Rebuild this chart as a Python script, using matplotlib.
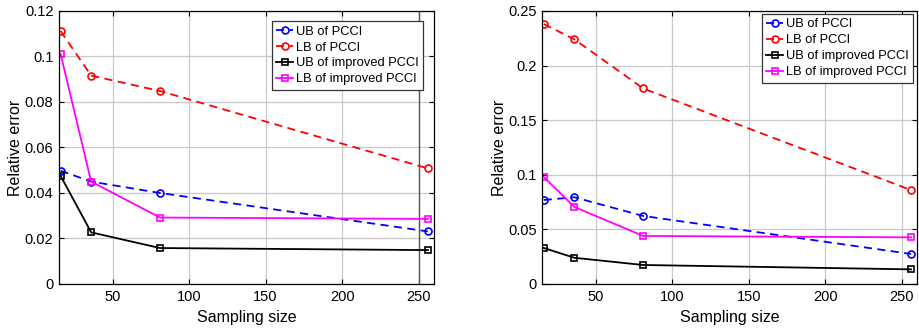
import numpy as np
import matplotlib
matplotlib.use("Agg")
import matplotlib.pyplot as plt

plt.rcParams['font.family'] = ['Liberation Sans', 'DejaVu Sans']

sizes = [16, 36, 81, 256]
labels = ["UB of PCCI", "LB of PCCI", "UB of improved PCCI", "LB of improved PCCI"]

# left panel
ub_pcci_a = [0.0498, 0.0450, 0.0400, 0.0231]
lb_pcci_a = [0.1112, 0.0916, 0.0848, 0.0508]
ub_impr_a = [0.0476, 0.0227, 0.0158, 0.0149]
lb_impr_a = [0.1012, 0.0450, 0.0292, 0.0286]

# right panel
ub_pcci_b = [0.0769, 0.0794, 0.0623, 0.0275]
lb_pcci_b = [0.2380, 0.2240, 0.1790, 0.0860]
ub_impr_b = [0.0330, 0.0240, 0.0174, 0.0134]
lb_impr_b = [0.0980, 0.0705, 0.0440, 0.0427]

yticks_a = [0, 0.02, 0.04, 0.06, 0.08, 0.1, 0.12]
ytick_labels_a = ["0", "0.02", "0.04", "0.06", "0.08", "0.1", "0.12"]
yticks_b = [0, 0.05, 0.1, 0.15, 0.2, 0.25]
ytick_labels_b = ["0", "0.05", "0.1", "0.15", "0.2", "0.25"]
xticks = [50, 100, 150, 200, 250]

styles = [
    dict(color="#0000ff", ls="--", marker="o"),
    dict(color="#ff0000", ls="--", marker="o"),
    dict(color="#000000", ls="-", marker="s"),
    dict(color="#ff00ff", ls="-", marker="s"),
]


def drawPanel(ax, series, yticks, ytick_labels, ymax, legend_anchor, dark_grid=False):
    for ys, lab, st in zip(series, labels, styles):
        line, = ax.plot(sizes, ys, color=st["color"], linestyle=st["ls"], marker=st["marker"],
                        markersize=5 if st["marker"] == "o" else 4.5, markerfacecolor="none",
                        markeredgewidth=1.2, linewidth=1.3, label=lab)
        if st["ls"] == "--":
            line.set_dashes((4.5, 3))
    ax.set_xlim(15, 260)
    ax.set_ylim(0, ymax)
    ax.set_xticks(xticks)
    ax.set_yticks(yticks)
    ax.set_yticklabels(ytick_labels)
    ax.grid(True, color="#c8c8c8", linewidth=0.9)
    ax.set_axisbelow(True)
    if dark_grid:
        # the 250 grid line is drawn dark in the original
        ax.axvline(250, color="#555555", linewidth=1.0, zorder=1.5)
    ax.tick_params(direction="in", top=True, right=True, labelsize=10.5, length=3.5, pad=4)
    for sp in ax.spines.values():
        sp.set_linewidth(0.9)
    ax.set_xlabel("Sampling size", fontsize=11.5, labelpad=5)
    ax.set_ylabel("Relative error", fontsize=11.5, labelpad=1)
    leg = ax.legend(loc="upper right", bbox_to_anchor=legend_anchor, fontsize=9.3,
                    handlelength=1.3, handletextpad=0.2, borderpad=0.35,
                    labelspacing=0.3, borderaxespad=0, fancybox=False,
                    framealpha=1, edgecolor="#333333")
    leg.get_frame().set_linewidth(0.9)


fig = plt.figure(figsize=(9.19, 3.31), dpi=100)
ax1 = fig.add_axes([0.0642, 0.142, 0.408, 0.825])
ax2 = fig.add_axes([0.590, 0.142, 0.408, 0.825])

drawPanel(ax1, [ub_pcci_a, lb_pcci_a, ub_impr_a, lb_impr_a], yticks_a, ytick_labels_a,
          0.12, (0.971, 0.963), dark_grid=True)
drawPanel(ax2, [ub_pcci_b, lb_pcci_b, ub_impr_b, lb_impr_b], yticks_b, ytick_labels_b,
          0.25, (0.989, 0.989))

fig.savefig("out.png", dpi=100)
